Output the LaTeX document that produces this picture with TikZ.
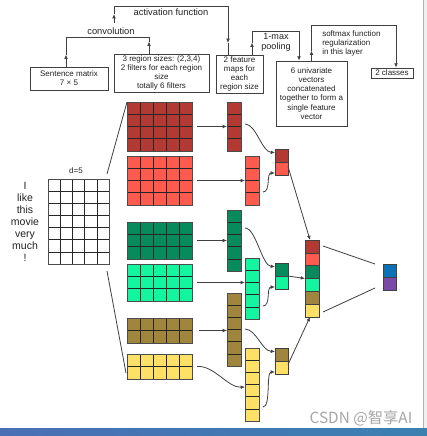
\documentclass[tikz,border=0pt]{standalone}
\usepackage{fontspec}
\setmainfont{Liberation Sans}
\newfontfamily\cjk{Noto Sans CJK SC}
\usetikzlibrary{calc,arrows.meta}
\definecolor{cdred}{HTML}{B33A33}
\definecolor{cred}{HTML}{FF5A4E}
\definecolor{cdgreen}{HTML}{078A5C}
\definecolor{clgreen}{HTML}{14F5A0}
\definecolor{colive}{HTML}{A0853C}
\definecolor{cyellow}{HTML}{FFE066}
\definecolor{cblue}{HTML}{0B72B6}
\definecolor{cpurple}{HTML}{7A4AA8}
\definecolor{ctext}{HTML}{222222}
\definecolor{cbarl}{HTML}{4A6FB5}
\definecolor{cbarr}{HTML}{3C80B0}
\tikzset{
  cellline/.style={draw=black!85,line width=0.45pt},
  gridframe/.style={draw=black!70,line width=0.5pt,inner sep=0pt,outer sep=0pt},
  cellnode/.style={draw=black!75,line width=0.45pt,inner sep=0pt,outer sep=0pt},
  tbox/.style={draw=black!75,line width=0.6pt,inner sep=0pt,align=center,text=ctext,font=\fontsize{6}{6.9}\selectfont},
  conn/.style={draw=black!75,line width=0.6pt},
  arr/.style={conn,-{Latex[length=3.2pt,width=2.8pt]}},
  lbl/.style={text=ctext,inner sep=0pt,font=\fontsize{7}{7.5}\selectfont,align=center},
}
\newcommand\cellgrid[8]{%
  \foreach \ci in {1,...,#4}{\foreach \cj in {1,...,#5}{%
    \draw[cellline,fill=#8] ({#2+(\ci-1)*#6},{#3+(\cj-1)*#7}) rectangle ++(#6,#7);}}%
  \node[gridframe,minimum width={#4*#6*0.75pt},minimum height={#5*#7*0.75pt},anchor=north west] (#1) at (#2,#3) {};}
\newcommand\vcell[6]{%
  \node[cellnode,fill=#6,minimum width={#4*0.75pt},minimum height={#5*0.75pt},anchor=north west] (#1) at (#2,#3) {};}
\begin{document}
\begin{tikzpicture}[x=0.75pt,y=-0.75pt]
\useasboundingbox (0,0) rectangle (427,436);
\fill[white] (0,0) rectangle (427,436);
% right strip and bottom bar
\fill[black!6] (423,0) rectangle (427,428);
\draw[black!30,line width=0.6pt] (423,0) -- (423,428);
\shade[left color=cbarl,right color=cbarr] (0,428) rectangle (427,436);

% top text boxes
\node[tbox,minimum width=78*0.75pt,minimum height=23*0.75pt] (sent) at (69,78.5) {Sentence matrix\\7 × 5};
\node[tbox,minimum width=95*0.75pt,minimum height=38*0.75pt] (reg) at (161.5,73) {3 region sizes: (2,3,4)\\2 filters for each region\\size\\totally 6 filters};
\node[tbox,minimum width=47*0.75pt,minimum height=38*0.75pt] (feat) at (239.5,74) {2 feature\\maps for\\each\\region size};
\node[tbox,minimum width=71*0.75pt,minimum height=65*0.75pt] (univ) at (311.5,93.5) {6 univariate\\vectors\\concatenated\\together to form a\\single feature\\vector};
\node[tbox,minimum width=42*0.75pt,minimum height=10*0.75pt] (cls) at (392,73) {2 classes};

% bracket connectors
\coordinate (cvA) at ($(sent.north)+(-3,0)$);
\coordinate (cvB) at ($(reg.north)+(-12.5,0)$);
\draw[arr] (cvA) -- ++(0,-12);
\draw[conn] ($(cvA)+(0,-12)$) -- (66,37) -- (149,37) -- (149,42);
\draw[arr] (cvB) -- ++(0,-12);
\node[lbl] (convlbl) at (111,31) {convolution};

\coordinate (acA) at (114,23);
\coordinate (acB) at ($(feat.north)+(-11.5,0)$);
\draw[arr] (acA) -- ++(0,-9);
\draw[arr] (114,14) -- (114,6) -- (228,6) -- (228,43);
\draw[conn] (228,43) -- (acB);
\node[lbl] (actlbl) at (171,12) {activation function};

\coordinate (pmA) at ($(feat.north)+(12.5,0)$);
\coordinate (pmB) at ($(univ.north)+(-12.5,0)$);
\draw[arr] (pmA) -- ++(0,-12);
\draw[arr] ($(pmA)+(0,-12)$) -- (252,31) -- (299,31) -- (pmB);
\node[lbl,font=\fontsize{6.8}{7.5}\selectfont] (poollbl) at (276,42) {1-max\\pooling};

\coordinate (smA) at (univ.north);
\draw[arr] (smA) -- ++(0,-10);
\draw[arr] ($(smA)+(0,-10)$) -- (311.5,25) -- (396,25) -- (cls.north -| 396,0);
\node[lbl,anchor=west,align=left,font=\fontsize{6}{7}\selectfont] (smlbl) at (322,43.5) {softmax function\\regularization\\in this layer};

% sentence matrix
\cellgrid{S}{48}{179}{5}{7}{12.2}{12.14}{white}
\node[lbl,font=\fontsize{6}{7}\selectfont] (dlbl) at (76,171) {d=5};
\node[lbl,font=\fontsize{7.9}{9}\selectfont] (words) at (25,222) {I\\like\\this\\movie\\very\\much\\!};

% filters
\cellgrid{F1}{127}{102}{5}{4}{13}{12.25}{cdred}
\cellgrid{F2}{127}{156}{5}{4}{13}{12.25}{cred}
\cellgrid{F3}{127}{222}{5}{3}{13}{12.33}{cdgreen}
\cellgrid{F4}{127}{264}{5}{3}{13}{12.33}{clgreen}
\cellgrid{F5}{127}{318}{5}{2}{13}{12.5}{colive}
\cellgrid{F6}{127}{354}{5}{2}{13}{12.5}{cyellow}
\draw[conn] ($(S.north east)+(-2,-5)$) -- (F1.north west);
\draw[conn] ($(S.south east)+(-2,7)$) -- ($(F6.south west)+(-1,-6)$);

% feature maps
\cellgrid{M1}{227}{102}{1}{4}{14}{12.25}{cdred}
\cellgrid{M2}{245}{156}{1}{4}{14}{12.25}{cred}
\cellgrid{M3}{227}{210}{1}{5}{14}{12.2}{cdgreen}
\cellgrid{M4}{245}{258}{1}{5}{14}{12.2}{clgreen}
\cellgrid{M5}{227}{293}{1}{6}{14}{12.17}{colive}
\cellgrid{M6}{245}{348}{1}{6}{14}{12.17}{cyellow}

% pooled
\vcell{P1a}{275}{149}{13}{13}{cdred}
\vcell{P1b}{275}{162}{13}{13}{cred}
\vcell{P2a}{275}{263}{13}{13}{cdgreen}
\vcell{P2b}{275}{276}{13}{13}{clgreen}
\vcell{P3a}{275}{348}{13}{13}{colive}
\vcell{P3b}{275}{361}{13}{13}{cyellow}

% concatenated
\vcell{C1}{305}{240}{14}{12.83}{cdred}
\vcell{C2}{305}{252.83}{14}{12.83}{cred}
\vcell{C3}{305}{265.67}{14}{12.83}{cdgreen}
\vcell{C4}{305}{278.5}{14}{12.83}{clgreen}
\vcell{C5}{305}{291.33}{14}{12.83}{colive}
\vcell{C6}{305}{304.17}{14}{12.83}{cyellow}

% output
\vcell{O1}{383}{264}{13}{13}{cblue}
\vcell{O2}{383}{277}{13}{13}{cpurple}

% filter -> feature map
\draw[arr] ($(F1.east)+(5,0)$) -- (M1.west);
\draw[arr] ($(F2.east)+(5,0)$) -- (M2.west);
\draw[arr] ($(F3.east)+(5,0)$) -- (M3.west);
\draw[arr] ($(F4.east)+(5,0)$) -- (M4.west |- F4.east);
\draw[arr] ($(F5.east)+(7,0)$) -- (M5.west |- F5.east);
\draw[arr] ($(F6.east)+(5,0)$) .. controls (214,365) and (228,388) .. ($(M6.west)+(0,2.5)$);

% feature map -> pooled
\draw[arr] ($(M1.east)+(4,-2.5)$) .. controls (256,124) and (262,152) .. ($(P1a.west)+(0,-3)$);
\draw[arr] ($(M2.east)+(4,11.5)$) .. controls (271,192) and (266,173) .. ($(P1b.west)+(0,4.5)$);
\draw[arr] ($(M3.east)+(4,-12.5)$) .. controls (256,228) and (262,266) .. ($(P2a.west)+(0,-3)$);
\draw[arr] ($(M4.east)+(4,17.5)$) .. controls (271,306) and (266,287) .. ($(P2b.west)+(0,4.5)$);
\draw[arr] ($(M5.east)+(4,-0.5)$) .. controls (256,329) and (262,351) .. ($(P3a.west)+(0,-3)$);
\draw[arr] ($(M6.east)+(4,22.5)$) .. controls (271,407) and (266,372) .. ($(P3b.west)+(0,4.5)$);

% pooled -> concatenated
\draw[arr] ($(P1b.east)+(0,-2)$) -- ($(C1.north)+(-2,0)$);
\draw[arr] (P2b.north east) -- (C4.north west);
\draw[arr] ($(P3b.east)+(0,-3)$) -- ($(C6.south)+(-2,0)$);

% concatenated -> output
\draw[conn] ($(C1.north east)+(4,6)$) -- ($(O1.north west)+(-8,0)$);
\draw[conn] ($(O2.south west)+(-8,-2)$) -- ($(C6.south east)+(4,-5)$);

% watermark
\node[text=black!35,inner sep=0pt,font=\cjk\fontsize{11.5}{12}\selectfont] (wm) at (361,418) {CSDN @智享AI};
\end{tikzpicture}
\end{document}
